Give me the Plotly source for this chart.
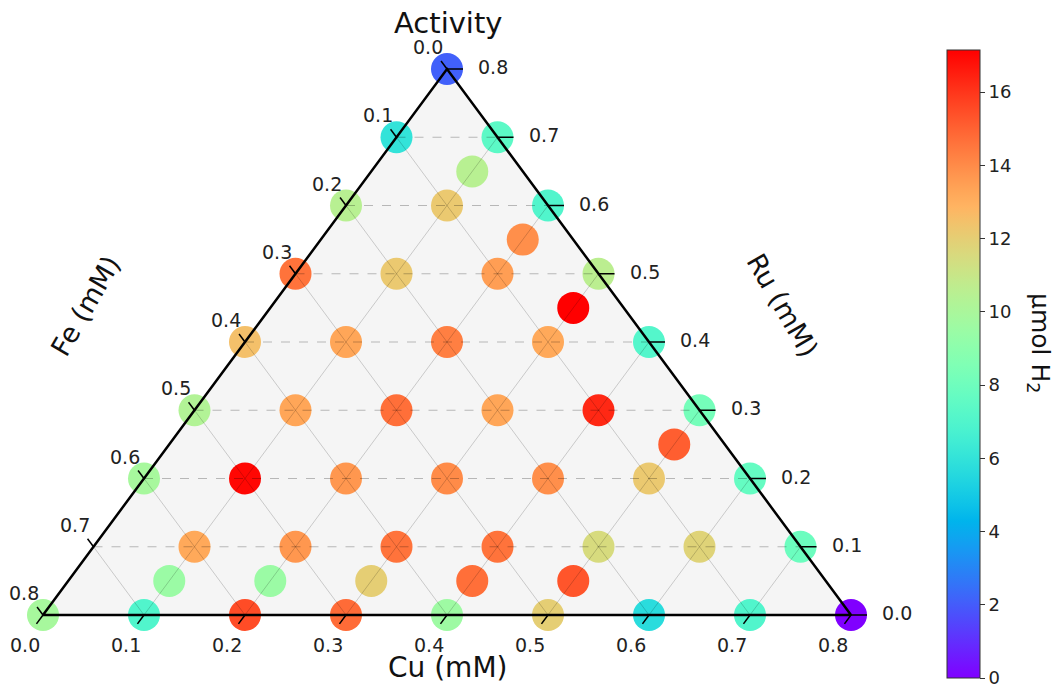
import numpy as np
import plotly.graph_objects as go

# ---------------- data ----------------
SCALE = 0.8
tick_values = [0.0, 0.1, 0.2, 0.3, 0.4, 0.5, 0.6, 0.7, 0.8]
tick_labels = ["0.0", "0.1", "0.2", "0.3", "0.4", "0.5", "0.6", "0.7", "0.8"]
cbar_ticks = [0, 2, 4, 6, 8, 10, 12, 14, 16]

cu = [0.0, 0.1, 0.2, 0.3, 0.4, 0.5, 0.6, 0.7, 0.8,
      0.1, 0.2, 0.3, 0.4, 0.5,
      0.1, 0.2, 0.3, 0.4, 0.5, 0.6, 0.7,
      0.0, 0.1, 0.2, 0.3, 0.4, 0.5, 0.6,
      0.5,
      0.0, 0.1, 0.2, 0.3, 0.4, 0.5,
      0.0, 0.1, 0.2, 0.3, 0.4,
      0.3,
      0.0, 0.1, 0.2, 0.3,
      0.2,
      0.0, 0.1, 0.2,
      0.1,
      0.0, 0.1,
      0.0]
ru = [0.0, 0.0, 0.0, 0.0, 0.0, 0.0, 0.0, 0.0, 0.0,
      0.05, 0.05, 0.05, 0.05, 0.05,
      0.1, 0.1, 0.1, 0.1, 0.1, 0.1, 0.1,
      0.2, 0.2, 0.2, 0.2, 0.2, 0.2, 0.2,
      0.25,
      0.3, 0.3, 0.3, 0.3, 0.3, 0.3,
      0.4, 0.4, 0.4, 0.4, 0.4,
      0.45,
      0.5, 0.5, 0.5, 0.5,
      0.55,
      0.6, 0.6, 0.6,
      0.65,
      0.7, 0.7,
      0.8]
activity = [9.9, 7.0, 15.5, 14.8, 9.6, 12.0, 5.7, 7.0, 0.0,
            9.5, 9.5, 12.0, 14.7, 15.3,
            13.2, 13.7, 14.6, 14.6, 11.5, 11.8, 7.9,
            9.9, 17.0, 13.7, 14.0, 13.9, 12.2, 7.7,
            15.1,
            10.3, 13.3, 14.7, 13.3, 16.3, 8.2,
            12.5, 13.3, 14.3, 13.2, 7.1,
            17.15,
            14.6, 12.2, 13.5, 10.6,
            13.9,
            10.5, 12.2, 7.0,
            10.5,
            6.0, 7.4,
            2.1]

# ---------------- helpers ----------------
W, H = 1054, 685
PX_L, PX_R = 43.0, 851.0     # pixel x of left / right vertex
PY_B, PY_T = 615.0, 69.0     # pixel y of base / apex
SX = (PX_R - PX_L) / SCALE   # px per data unit (x)
SY = (PY_B - PY_T) / SCALE   # px per data unit (y)


def proj(c, r):
    """ternary (Cu, Ru) -> cartesian (x, y); Fe = SCALE - Cu - Ru"""
    return c + r / 2.0, r


def rainbow(t):
    r = min(1.0, abs(2 * t - 0.5))
    g = np.sin(np.pi * t)
    b = np.cos(np.pi * t / 2)
    return "rgb(%d,%d,%d)" % (round(r * 255), round(g * 255), round(b * 255))


colorscale = [[i / 40, rainbow(i / 40)] for i in range(41)]

FONT = "DejaVu Sans"
TICK_FONT = dict(family=FONT, size=19, color="#222")
fig = go.Figure()

# triangle background
vx, vy = zip(*[proj(0, 0), proj(SCALE, 0), proj(0, SCALE), proj(0, 0)])
fig.add_trace(go.Scatter(x=vx, y=vy, mode="lines", fill="toself",
                         fillcolor="#f5f5f5", line=dict(width=0),
                         hoverinfo="skip", showlegend=False))

# data points
px_, py_ = zip(*[proj(c, r) for c, r in zip(cu, ru)])
fig.add_trace(go.Scatter(
    x=px_, y=py_, mode="markers", showlegend=False,
    marker=dict(size=32, color=activity, colorscale=colorscale,
                cmin=min(activity), cmax=max(activity), line=dict(width=0),
                colorbar=dict(
                    x=947 / W, xanchor="left", y=(H - 678) / H, yanchor="bottom",
                    len=628, lenmode="pixels", thickness=33, thicknessmode="pixels",
                    xpad=0, ypad=0, outlinewidth=1, outlinecolor="#333",
                    ticks="outside", ticklen=5, tickwidth=1, tickcolor="#333",
                    tickmode="array", tickvals=cbar_ticks,
                    ticktext=[str(t) for t in cbar_ticks],
                    ticklabeloverflow="allow",
                    tickfont=dict(family=FONT, size=18, color="#222"),
                )),
    hovertemplate="Cu %{customdata[0]}<br>Ru %{customdata[1]}<br>%{marker.color}<extra></extra>",
    customdata=list(zip(cu, ru))))

# grid lines
inner = tick_values[1:-1]
hx, hy, dx, dy = [], [], [], []
for v in inner:
    a, b = proj(0, v), proj(SCALE - v, v)          # Ru constant
    hx += [a[0], b[0], None]; hy += [a[1], b[1], None]
    a, b = proj(v, 0), proj(v, SCALE - v)          # Cu constant
    dx += [a[0], b[0], None]; dy += [a[1], b[1], None]
    a, b = proj(SCALE - v, 0), proj(0, SCALE - v)  # Fe constant
    dx += [a[0], b[0], None]; dy += [a[1], b[1], None]
fig.add_trace(go.Scatter(x=dx, y=dy, mode="lines", hoverinfo="skip", showlegend=False,
                         line=dict(color="rgba(0,0,0,0.18)", width=1)))
fig.add_trace(go.Scatter(x=hx, y=hy, mode="lines", hoverinfo="skip", showlegend=False,
                         line=dict(color="rgba(0,0,0,0.25)", width=1, dash="dash")))

# border
fig.add_trace(go.Scatter(x=vx, y=vy, mode="lines", hoverinfo="skip", showlegend=False,
                         line=dict(color="black", width=2.5)))

# ticks
ux, uy = -0.595, 0.804  # unit direction in pixels (x right, y down)
tx, ty = [], []
annotations = []
for v, lab in zip(tick_values, tick_labels):
    # bottom axis (Cu)
    x0, y0 = proj(v, 0)
    tx += [x0, x0 + ux * 11 / SX, None]; ty += [y0, y0 - uy * 11 / SY, None]
    annotations.append(dict(x=x0, y=y0, text=lab, showarrow=False, xshift=-18, yshift=-30,
                            xanchor="center", yanchor="middle", font=TICK_FONT))
    # left axis (Fe = v)
    x0, y0 = proj(0, SCALE - v)
    tx += [x0, x0 + ux * 10 / SX, None]; ty += [y0, y0 + uy * 10 / SY, None]
    annotations.append(dict(x=x0, y=y0, text=lab, showarrow=False, xshift=-19, yshift=22,
                            xanchor="center", yanchor="middle", font=TICK_FONT))
    # right axis (Ru = v)
    x0, y0 = proj(SCALE - v, v)
    tx += [x0, x0 + 16 / SX, None]; ty += [y0, y0, None]
    annotations.append(dict(x=x0, y=y0, text=lab, showarrow=False, xshift=46, yshift=2,
                            xanchor="center", yanchor="middle", font=TICK_FONT))
fig.add_trace(go.Scatter(x=tx, y=ty, mode="lines", hoverinfo="skip", showlegend=False,
                         line=dict(color="black", width=1.5)))


# titles
def title_ann(text, px, py, size, angle=0):
    return dict(text=text, xref="paper", yref="paper", x=px / W, y=1 - py / H,
                xanchor="center", yanchor="middle", showarrow=False, textangle=angle,
                font=dict(family=FONT, size=size, color="#111"))


annotations += [
    title_ann("Activity", 448, 23, 29),
    title_ann("Cu (mM)", 447, 667, 28),
    title_ann("Fe (mM)", 86, 306, 27, -60),
    title_ann("Ru (mM)", 783, 305, 27, 60),
    title_ann("μmol H<sub>2</sub>", 1039, 343, 25, 90),
]

fig.update_layout(
    width=W, height=H, autosize=False,
    paper_bgcolor="white", plot_bgcolor="white",
    margin=dict(l=0, r=0, t=0, b=0, pad=0, autoexpand=False),
    xaxis=dict(visible=False, range=[-PX_L / SX, (W - PX_L) / SX], fixedrange=True),
    yaxis=dict(visible=False, range=[-(H - PY_B) / SY, PY_B / SY], fixedrange=True),
    annotations=annotations,
    font=dict(family=FONT),
)

fig.write_html("out.html", config={"displayModeBar": False},
               post_script="document.body.style.margin='0';")
